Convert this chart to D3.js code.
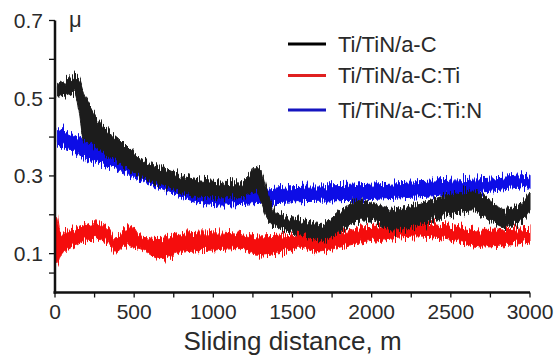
<!DOCTYPE html>
<html>
<head>
<meta charset="utf-8">
<script src="https://cdn.jsdelivr.net/npm/d3@7/dist/d3.min.js"></script>
<style>
  html, body { margin: 0; padding: 0; background: #fff; }
  svg { display: block; font-family: "Liberation Sans", Arial, sans-serif; }
</style>
</head>
<body>
<svg id="chart" width="555" height="356"></svg>
<script>
// Friction coefficient vs sliding distance, three coatings.
// Each trace is noisy, so it is kept as a band: lower / upper edge.

const seriesNames = ['Ti/TiN/a-C', 'Ti/TiN/a-C:Ti', 'Ti/TiN/a-C:Ti:N'];
const seriesColors = ['#1c1c1c', '#f50a0a', '#0a0ae6'];
const legendColors = ['#000000', '#e02020', '#1515c0'];

// Ti/TiN/a-C (black)
const blackDist = [15, 60, 126, 150, 180, 210, 242, 300, 390, 516, 663, 853, 979, 1168, 1230, 1274, 1300, 1337, 1400, 1547, 1674, 1800, 1905, 1989, 2137, 2284, 2495, 2642, 2747, 2832, 2937, 3000];
const blackLow  = [0.503, 0.505, 0.513, 0.47, 0.39, 0.385, 0.378, 0.360, 0.336, 0.304, 0.279, 0.250, 0.244, 0.244, 0.253, 0.260, 0.235, 0.192, 0.166, 0.151, 0.133, 0.158, 0.183, 0.184, 0.158, 0.171, 0.200, 0.210, 0.184, 0.167, 0.180, 0.210];
const blackHigh = [0.533, 0.540, 0.557, 0.55, 0.515, 0.49, 0.465, 0.430, 0.400, 0.352, 0.325, 0.294, 0.287, 0.282, 0.302, 0.325, 0.318, 0.265, 0.206, 0.188, 0.175, 0.209, 0.237, 0.231, 0.214, 0.227, 0.252, 0.261, 0.239, 0.214, 0.227, 0.261];

// Ti/TiN/a-C:Ti (red)
const redDist = [0, 10, 32, 137, 242, 337, 379, 453, 495, 537, 663, 811, 979, 1168, 1274, 1484, 1547, 1653, 1800, 1905, 2073, 2284, 2495, 2705, 3000];
const redLow  = [0.066, 0.07, 0.092, 0.122, 0.139, 0.126, 0.104, 0.122, 0.117, 0.113, 0.087, 0.104, 0.109, 0.113, 0.096, 0.109, 0.117, 0.104, 0.117, 0.126, 0.135, 0.143, 0.135, 0.117, 0.130];
const redHigh = [0.204, 0.20, 0.152, 0.165, 0.182, 0.165, 0.143, 0.169, 0.165, 0.143, 0.139, 0.152, 0.156, 0.152, 0.143, 0.147, 0.152, 0.139, 0.156, 0.165, 0.169, 0.178, 0.173, 0.160, 0.165];

// Ti/TiN/a-C:Ti:N (blue)
const blueDist = [15, 53, 179, 390, 600, 853, 1063, 1274, 1484, 1863, 2284, 2705, 3000];
const blueLow  = [0.379, 0.375, 0.349, 0.315, 0.281, 0.238, 0.225, 0.229, 0.233, 0.237, 0.246, 0.259, 0.272];
const blueHigh = [0.422, 0.418, 0.392, 0.349, 0.310, 0.268, 0.259, 0.263, 0.272, 0.276, 0.285, 0.293, 0.302];

const xTicks = [0, 500, 1000, 1500, 2000, 2500, 3000];
const xMinorTicks = [250, 750, 1250, 1750, 2250, 2750];
const yTicks = [0.1, 0.3, 0.5, 0.7];
const yMinorTicks = [0.05, 0.2, 0.4, 0.6];

const svg = d3.select('#chart');
const x = d3.scaleLinear().domain([0, 3000]).range([55, 530]);
const y = d3.scaleLinear().domain([0, 0.7]).range([292.5, 20.5]);

// vertical jitter filter so the bands get the spiky edge of raw tribometer traces
const defs = svg.append('defs');
const f = defs.append('filter').attr('id', 'noisy')
  .attr('filterUnits', 'userSpaceOnUse')
  .attr('x', 0).attr('y', 0).attr('width', 555).attr('height', 356);
f.append('feTurbulence').attr('type', 'fractalNoise')
  .attr('baseFrequency', '1.1 0.02').attr('numOctaves', 2).attr('seed', 3).attr('result', 'turb');
f.append('feColorMatrix').attr('in', 'turb').attr('type', 'matrix')
  .attr('values', '0 0 0 0 0.5  0 1 0 0 0  0 0 0 0 0  0 0 0 0 1').attr('result', 'map');
f.append('feDisplacementMap').attr('in', 'SourceGraphic').attr('in2', 'map')
  .attr('scale', 17).attr('xChannelSelector', 'R').attr('yChannelSelector', 'G');

const bands = [
  { dist: redDist, low: redLow, high: redHigh, color: seriesColors[1] },
  { dist: blueDist, low: blueLow, high: blueHigh, color: seriesColors[2] },
  { dist: blackDist, low: blackLow, high: blackHigh, color: seriesColors[0] },
];

const area = d3.area()
  .curve(d3.curveMonotoneX)
  .x(d => x(d.d))
  .y0(d => y(d.lo))
  .y1(d => y(d.hi));

const plot = svg.append('g').attr('filter', 'url(#noisy)');
bands.forEach(b => {
  const pts = b.dist.map((d, i) => ({ d, lo: b.low[i], hi: b.high[i] }));
  plot.append('path')
    .attr('d', area(pts))
    .attr('fill', b.color)
    .attr('stroke', b.color)
    .attr('stroke-width', 1);
});

// axes
const axisColor = '#111';
const tickFont = 21;
const textColor = '#2a2a2a';

const xAxis = svg.append('g').attr('transform', `translate(0, ${y(0)})`);
xAxis.append('line').attr('x1', x(0) - 1.5).attr('x2', x(3000)).attr('stroke', axisColor).attr('stroke-width', 2.5);
xAxis.selectAll('line.tk').data(xTicks.concat(xMinorTicks)).join('line').attr('class', 'tk')
  .attr('x1', d => x(d)).attr('x2', d => x(d)).attr('y1', 0).attr('y2', 5)
  .attr('stroke', axisColor).attr('stroke-width', 1.3);
xAxis.selectAll('text').data(xTicks).join('text')
  .attr('x', d => x(d)).attr('y', 26)
  .attr('text-anchor', 'middle').attr('font-size', tickFont).attr('fill', textColor)
  .text(d => d);

const yAxis = svg.append('g').attr('transform', `translate(${x(0)}, 0)`);
yAxis.append('line').attr('y1', y(0.7)).attr('y2', y(0) + 1.2).attr('stroke', axisColor).attr('stroke-width', 2.5);
yAxis.selectAll('line.tk').data(yTicks.concat(yMinorTicks)).join('line').attr('class', 'tk')
  .attr('x1', -6).attr('x2', 0).attr('y1', d => y(d)).attr('y2', d => y(d))
  .attr('stroke', axisColor).attr('stroke-width', 1.3);
yAxis.selectAll('text').data(yTicks).join('text')
  .attr('x', -12).attr('y', d => y(d)).attr('dy', '0.36em')
  .attr('text-anchor', 'end').attr('font-size', tickFont).attr('fill', textColor)
  .text(d => d3.format('.1f')(d));

svg.append('text').attr('x', 69).attr('y', 27)
  .attr('font-size', 22).attr('fill', textColor).text('μ');

svg.append('text').attr('x', (x(0) + x(3000)) / 2).attr('y', 350)
  .attr('text-anchor', 'middle').attr('font-size', 26).attr('fill', textColor)
  .text('Sliding distance, m');

// legend
const legendY = [44, 75.5, 110];
const legend = svg.append('g');
seriesNames.forEach((name, i) => {
  legend.append('line')
    .attr('x1', 288).attr('x2', 326).attr('y1', legendY[i]).attr('y2', legendY[i])
    .attr('stroke', legendColors[i]).attr('stroke-width', 3);
  legend.append('text')
    .attr('x', 338).attr('y', legendY[i]).attr('dy', '0.36em')
    .attr('font-size', 22).attr('fill', textColor)
    .text(name);
});
</script>
</body>
</html>
